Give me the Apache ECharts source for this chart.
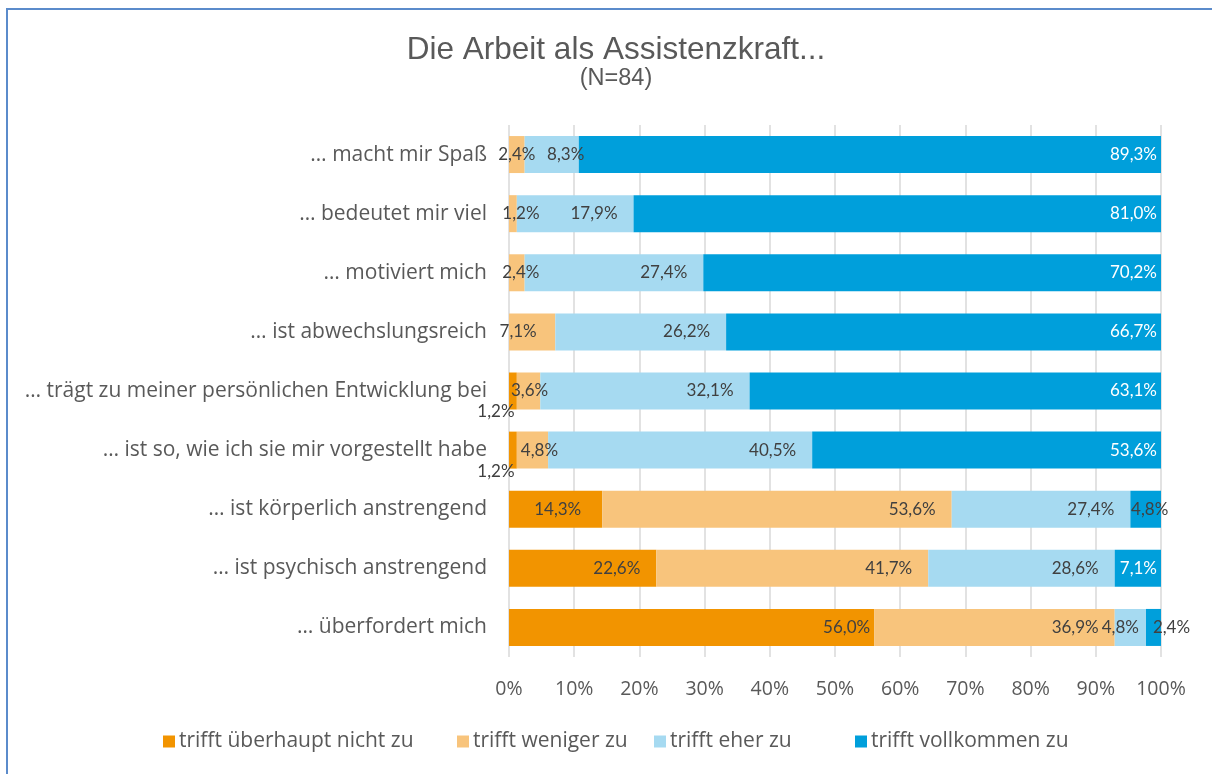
<!DOCTYPE html>
<html>
<head>
<meta charset="utf-8">
<script src="https://cdn.jsdelivr.net/npm/echarts@6/dist/echarts.min.js"></script>
<style>
html,body{margin:0;padding:0;background:#fff;}
#frame{position:absolute;left:6px;top:8px;width:1300px;height:900px;border-left:2px solid #5B8BCB;border-top:2px solid #5B8BCB;pointer-events:none;}
#chart{position:absolute;left:0;top:0;width:1212px;height:774px;}
</style>
</head>
<body>
<div id="chart"></div>
<div id="frame"></div>
<script>
const categories = [
  '… macht mir Spaß',
  '… bedeutet mir viel',
  '… motiviert mich',
  '… ist abwechslungsreich',
  '… trägt zu meiner persönlichen Entwicklung bei',
  '… ist so, wie ich sie mir vorgestellt habe',
  '… ist körperlich anstrengend',
  '… ist psychisch anstrengend',
  '… überfordert mich'
];
const seriesNames = ['trifft überhaupt nicht zu', 'trifft weniger zu', 'trifft eher zu', 'trifft vollkommen zu'];
const ueberhauptNicht = [0, 0, 0, 0, 1.2, 1.2, 14.3, 22.6, 56.0];
const weniger = [2.4, 1.2, 2.4, 7.1, 3.6, 4.8, 53.6, 41.7, 36.9];
const eher = [8.3, 17.9, 27.4, 26.2, 32.1, 40.5, 27.4, 28.6, 4.8];
const vollkommen = [89.3, 81.0, 70.2, 66.7, 63.1, 53.6, 4.8, 7.1, 2.4];
const xTicks = [0, 10, 20, 30, 40, 50, 60, 70, 80, 90, 100];

const colors = ['#F29400', '#F8C47C', '#A6DAF1', '#009FDB'];
const fmt = v => v.toFixed(1).replace('.', ',') + '%';
const LABEL_FONT = 'Open Sans';
const DATA_FONT = 'Lato';

// label placement tweaks (style only), keyed "row,series"
const labelTweaks = {
  '0,1': { position: 'inside', dx: 0 },
  '0,2': { position: 'inside', dx: 14 },
  '1,1': { position: 'inside', dx: 8 },
  '2,1': { position: 'inside', dx: 4 },
  '3,1': { position: 'inside', dx: -14 },
  '4,0': { position: 'inside', dx: -17, dy: 21 },
  '4,1': { position: 'inside', dx: 1 },
  '5,0': { position: 'inside', dx: -17, dy: 21 },
  '5,1': { position: 'inside', dx: 7 },
  '6,0': { dx: -5 },
  '6,3': { position: 'inside', dx: 4, color: '#404040' },
  '8,0': { dx: 12 },
  '8,2': { position: 'inside', dx: -10 },
  '8,3': { position: 'inside', dx: 18, color: '#404040' }
};
// legend item left positions (layout only)
const legendLefts = [163, 457, 654, 855];

function buildData(values, sIdx) {
  return values.map((v, i) => {
    if (v === 0) return { value: 0, label: { show: false } };
    const t = labelTweaks[i + ',' + sIdx] || {};
    const lab = {
      show: true, formatter: fmt(v), fontFamily: DATA_FONT, fontSize: 17,
      position: t.position || 'insideRight',
      distance: sIdx === 3 ? 4 : 16,
      color: t.color || (sIdx === 3 ? '#ffffff' : '#404040')
    };
    return { value: v, label: lab };
  });
}

const allVals = [ueberhauptNicht, weniger, eher, vollkommen];
const chart = echarts.init(document.getElementById('chart'));
chart.setOption({
  animation: false,
  title: {
    text: 'Die Arbeit als Assistenzkraft...',
    subtext: '(N=84)',
    left: 611, textAlign: 'center', top: 29,
    itemGap: 1,
    textStyle: { fontFamily: 'Liberation Sans', fontSize: 31.5, fontWeight: 'normal', color: '#595959' },
    subtextStyle: { fontFamily: 'Liberation Sans', fontSize: 23.5, color: '#595959' }
  },
  legend: seriesNames.map((n, k) => ({
    data: [n],
    bottom: 22, left: legendLefts[k], padding: 0,
    itemWidth: 12, itemHeight: 12,
    icon: 'rect',
    textStyle: { fontFamily: LABEL_FONT, fontSize: 21, color: '#595959', padding: [0, 0, 0, -1] }
  })),
  grid: { left: 509, right: 51, top: 125, bottom: 117, containLabel: false },
  xAxis: {
    type: 'value', min: 0, max: 100, interval: 10,
    axisLine: { show: false }, axisTick: { show: false },
    splitLine: { lineStyle: { color: '#D9D9D9', width: 1.5 } },
    axisLabel: { formatter: v => v + '%', fontFamily: LABEL_FONT, fontSize: 19.5, color: '#595959', margin: 22 }
  },
  yAxis: {
    type: 'category', data: categories, inverse: true,
    axisLine: { show: false }, axisTick: { show: false },
    axisLabel: { fontFamily: LABEL_FONT, fontSize: 21, color: '#595959', margin: 22 }
  },
  series: allVals.map((vals, s) => ({
    name: seriesNames[s], type: 'bar', stack: 'total', barWidth: 37,
    itemStyle: { color: colors[s] },
    labelLayout: function (p) {
      const t = labelTweaks[p.dataIndex + ',' + p.seriesIndex] || {};
      return { dx: t.dx || 0, dy: t.dy || 0, hideOverlap: false };
    },
    data: buildData(vals, s)
  }))
});
</script>
</body>
</html>
